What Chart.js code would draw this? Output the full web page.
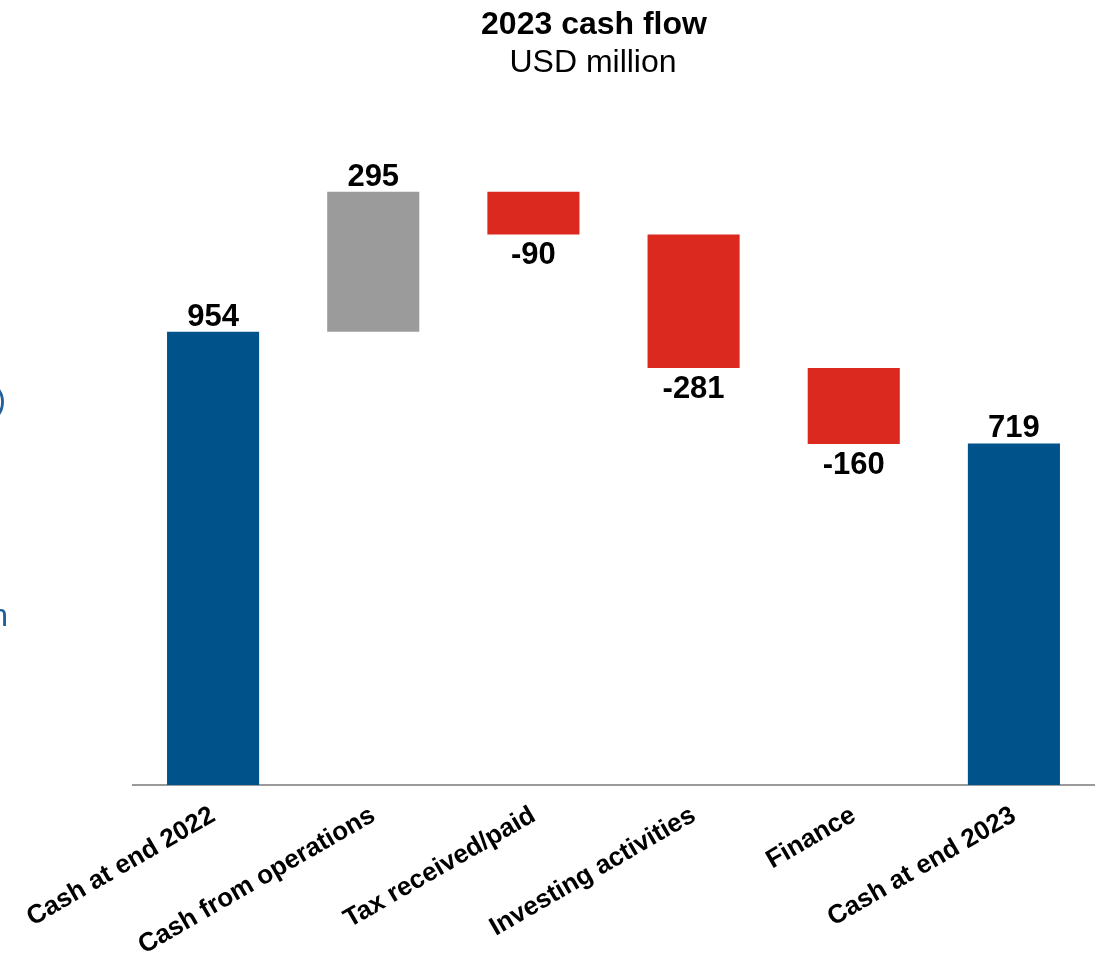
<!DOCTYPE html>
<html lang="en">
  <head>
    <meta charset="UTF-8" />
    <title>2023 cash flow</title>
    <style>
      body {
        margin: 0;
        background-color: #fff;
      }
      .chart-container {
        position: relative;
        width: 1097px;
        height: 962px;
      }
    </style>
  </head>
  <body>
    <div class="chart-container">
      <canvas id="cashChart"></canvas>
    </div>
    <script src="https://cdn.jsdelivr.net/npm/chart.js"></script>
    <script>
      const categories = [
        "Cash at end 2022",
        "Cash from operations",
        "Tax received/paid",
        "Investing activities",
        "Finance",
        "Cash at end 2023",
      ];
      // movements in USD million; first and last are totals
      const amounts = [954, 295, -90, -281, -160, 719];
      const isTotal = [true, false, false, false, false, true];

      const BLUE = "#00538a";
      const GREY = "#9b9b9b";
      const RED = "#dc2920";
      const FONT = "'Liberation Sans', Arial, sans-serif";

      // build floating bar ranges from the running total
      let running = 0;
      const ranges = amounts.map((v, i) => {
        if (isTotal[i]) {
          running = v;
          return [0, v];
        }
        const start = running;
        running += v;
        return [start, running];
      });
      const colors = amounts.map((v, i) =>
        isTotal[i] ? BLUE : v >= 0 ? GREY : RED
      );

      const headerPlugin = {
        id: "header",
        afterDraw(chart) {
          const ctx = chart.ctx;
          ctx.save();
          ctx.fillStyle = "#000";
          ctx.textAlign = "center";
          ctx.textBaseline = "alphabetic";
          ctx.font = "bold 32px " + FONT;
          ctx.fillText("2023 cash flow", 594, 34);
          ctx.font = "32px " + FONT;
          ctx.fillText("USD million", 593, 72);

          // clipped text from the neighbouring panel at the left edge
          ctx.fillStyle = "#1f5f9c";
          ctx.textAlign = "right";
          ctx.font = "32px " + FONT;
          ctx.fillText(")", 6, 410);
          ctx.fillText("n", 8, 626);
          ctx.restore();
        },
      };

      const valueLabels = {
        id: "valueLabels",
        afterDatasetsDraw(chart) {
          const ctx = chart.ctx;
          const meta = chart.getDatasetMeta(0);
          ctx.save();
          ctx.fillStyle = "#000";
          ctx.textAlign = "center";
          ctx.textBaseline = "alphabetic";
          ctx.font = "bold 31px " + FONT;
          meta.data.forEach((bar, i) => {
            const v = amounts[i];
            const top = Math.min(bar.y, bar.base);
            const bottom = Math.max(bar.y, bar.base);
            if (v >= 0) {
              ctx.fillText(String(v), bar.x, top - 6);
            } else {
              ctx.fillText(String(v), bar.x, bottom + 30);
            }
          });
          ctx.restore();
        },
      };

      new Chart(document.getElementById("cashChart"), {
        type: "bar",
        data: {
          labels: categories,
          datasets: [
            {
              data: ranges,
              backgroundColor: colors,
              borderWidth: 0,
              barPercentage: 0.575,
              categoryPercentage: 1,
            },
          ],
        },
        options: {
          responsive: true,
          maintainAspectRatio: false,
          animation: false,
          layout: {
            padding: { left: 133, right: 3, top: 120, bottom: 0 },
          },
          plugins: {
            legend: { display: false },
            tooltip: { enabled: false },
          },
          scales: {
            x: {
              grid: { display: false, drawTicks: false },
              border: { display: true, color: "#9a9a9a", width: 2 },
              ticks: {
                color: "#000",
                font: { family: FONT, size: 26, weight: "bold" },
                minRotation: 30,
                maxRotation: 30,
                padding: 15,
              },
              afterFit(scale) {
                scale.height = 177;
                scale.paddingLeft = 0;
                scale.paddingRight = 0;
              },
            },
            y: {
              display: false,
              min: 0,
              max: 1400,
            },
          },
        },
        plugins: [headerPlugin, valueLabels],
      });
    </script>
  </body>
</html>
